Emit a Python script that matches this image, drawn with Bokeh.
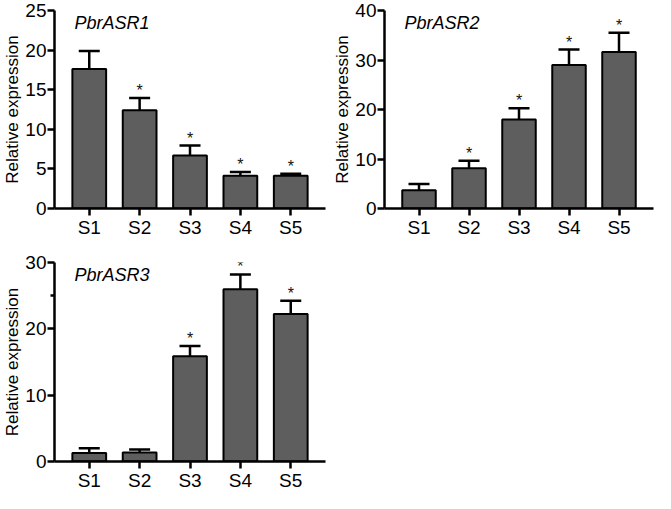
from bokeh.plotting import figure
from bokeh.models import (FactorRange, Range1d, FixedTicker, Whisker, TeeHead,
                          ColumnDataSource, Label)
from bokeh.layouts import column, row
from bokeh.embed import file_html
from bokeh.resources import INLINE
from bokeh.core.properties import value

# ---------------- data ----------------
categories = ["S1", "S2", "S3", "S4", "S5"]

genes = ["PbrASR1", "PbrASR2", "PbrASR3"]

asr1_mean = [17.6, 12.4, 6.7, 4.15, 4.15]
asr1_err = [2.3, 1.55, 1.25, 0.45, 0.25]
asr1_sig = ["", "*", "*", "*", "*"]

asr2_mean = [3.7, 8.15, 18.0, 29.0, 31.6]
asr2_err = [1.25, 1.5, 2.25, 3.1, 3.9]
asr2_sig = ["", "*", "*", "*", "*"]

asr3_mean = [1.3, 1.35, 15.85, 25.95, 22.25]
asr3_err = [0.7, 0.45, 1.55, 2.25, 2.0]
asr3_sig = ["", "", "*", "*", "*"]

y_max = [25, 40, 30]
y_ticks = [[0, 5, 10, 15, 20, 25], [0, 10, 20, 30, 40], [0, 10, 20, 30]]
y_minor = [[], [], [25]]

FONT = "Liberation Sans"
BAR_COLOR = "#5e5e5e"


def make_panel(gene, means, errs, sig, ymax, ticks, minor, width, height,
               bl, br, bt, bb):
    p = figure(x_range=FactorRange(factors=categories, range_padding=0.076),
               y_range=Range1d(0, ymax),
               width=width, height=height, output_backend="svg",
               toolbar_location=None,
               min_border_left=bl, min_border_right=br,
               min_border_top=bt, min_border_bottom=bb)
    p.outline_line_color = None
    p.xgrid.visible = False
    p.ygrid.visible = False
    p.background_fill_color = "white"
    p.border_fill_color = "white"

    tops = [m + e for m, e in zip(means, errs)]
    src = ColumnDataSource(dict(x=categories, m=means, top=tops, sig=sig))

    p.vbar(x="x", top="m", bottom=0, width=0.67, source=src,
           fill_color=BAR_COLOR, line_color="black", line_width=2)

    w = Whisker(base="x", lower="m", upper="top", source=src,
                dimension="height", line_width=2.5, line_color="black",
                upper_head=TeeHead(size=21, line_width=2.5, line_color="black"),
                lower_head=None, level="annotation")
    p.add_layout(w)

    p.text(x="x", y="top", text="sig", source=src, text_align="center",
           text_baseline="bottom", text_font=value(FONT),
           text_font_size="16px", text_color="#111111", y_offset=1)

    p.add_layout(Label(x=20, y=ymax, x_units="screen", y_units="data",
                       text=gene, text_font=FONT, text_font_size="18px",
                       text_font_style="italic", text_baseline="top",
                       y_offset=-2, text_color="black"))

    p.yaxis.ticker = FixedTicker(ticks=ticks, minor_ticks=minor)
    p.yaxis.axis_label = "Relative expression"
    for ax in (p.xaxis[0], p.yaxis[0]):
        ax.axis_line_width = 2.5
        ax.axis_line_color = "black"
        ax.major_tick_line_width = 2.5
        ax.major_tick_line_color = "black"
        ax.major_tick_out = 7
        ax.major_tick_in = 0
        ax.minor_tick_line_width = 2.5
        ax.minor_tick_line_color = "black"
        ax.minor_tick_out = 4
        ax.minor_tick_in = 0
        ax.major_label_text_font = FONT
        ax.major_label_text_font_size = "19px"
        ax.major_label_text_color = "black"
        ax.major_label_standoff = 1
        ax.axis_label_text_font = FONT
        ax.axis_label_text_font_size = "17px"
        ax.axis_label_text_font_style = "normal"
        ax.axis_label_text_color = "black"
        ax.axis_label_standoff = 0
    return p


p1 = make_panel(genes[0], asr1_mean, asr1_err, asr1_sig, y_max[0], y_ticks[0],
                y_minor[0], 330, 240, 44, 5, 10, 28)
p2 = make_panel(genes[1], asr2_mean, asr2_err, asr2_sig, y_max[1], y_ticks[1],
                y_minor[1], 325, 240, 50, 2, 10, 28)
p3 = make_panel(genes[2], asr3_mean, asr3_err, asr3_sig, y_max[2], y_ticks[2],
                y_minor[2], 330, 253, 44, 5, 22, 26)

layout = column(row(p1, p2), p3)

open("out.html", "w").write(file_html(layout, INLINE))
